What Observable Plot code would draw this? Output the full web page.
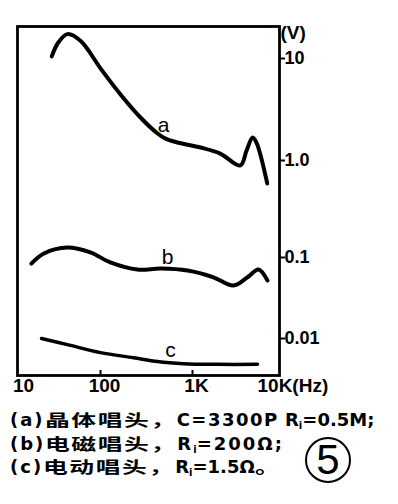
<!DOCTYPE html>
<html><head><meta charset="utf-8">
<script src="https://cdn.jsdelivr.net/npm/d3@7"></script>
<script src="https://cdn.jsdelivr.net/npm/@observablehq/plot@0.6"></script>
<style>
html,body{margin:0;padding:0;background:#fff;}
body{width:398px;height:504px;overflow:hidden;position:relative;}
#chart{position:absolute;left:0;top:0;}
.cap{position:absolute;left:10px;white-space:nowrap;font-family:"DejaVu Sans","Noto Sans CJK SC",sans-serif;font-weight:bold;font-size:18px;line-height:20px;color:#000;}
.cap .p{letter-spacing:2px;}
.cap .k{display:inline-block;font-family:"Noto Sans CJK SC",sans-serif;font-size:16px;line-height:18px;letter-spacing:1px;transform:scaleX(1.55);transform-origin:0 50%;}
.cap .k5{margin-right:47px;}
.cap .l1{letter-spacing:1.5px;}
.cap .l0{letter-spacing:0;}
.cap .l2{letter-spacing:2px;}
.cap sub{font-size:10px;vertical-align:-3px;letter-spacing:0;}
#five{position:absolute;left:305px;top:437px;width:46px;height:46px;border:2.5px solid #000;border-radius:50%;box-sizing:border-box;font-family:"Liberation Sans",sans-serif;font-size:42px;line-height:42px;text-align:center;color:#000;}
</style></head><body>
<div id="chart"></div>
<div class="cap" style="top:410px"><span class="p">(a)</span><span class="k k5">晶体唱头，</span><span class="l1">C=3300P</span><span class="l0"> R<sub>i</sub>=0.5M;</span></div>
<div class="cap" style="top:434px"><span class="p">(b)</span><span class="k k5">电磁唱头，</span><span class="l2">R<sub>i</sub>=200Ω;</span></div>
<div class="cap" style="top:457px"><span class="p">(c)</span><span class="k k5">电动唱头，</span><span class="l0">R<sub>i</sub>=1.5Ω</span><span class="k">。</span></div>
<div id="five">5</div>
<script>
// Curve a: crystal pickup
const freqA = [25, 30, 39, 57, 100, 165, 272, 417, 509, 690, 1240, 2100, 3600, 4250, 5000, 5540, 7400];
const voltA = [10.5, 14.4, 17.6, 15.0, 8.0, 4.44, 2.64, 1.84, 1.64, 1.5, 1.34, 1.17, 0.89, 1.25, 1.68, 1.5, 0.58];
// Curve b: magnetic pickup
const freqB = [14, 20, 39, 75, 128, 252, 449, 883, 1750, 3000, 4360, 5850, 7450];
const voltB = [0.084, 0.11, 0.127, 0.113, 0.087, 0.071, 0.073, 0.069, 0.057, 0.045, 0.057, 0.071, 0.052];
// Curve c: moving-coil pickup
const freqC = [18.7, 39, 100, 228, 417, 800, 1950, 5700];
const voltC = [0.01, 0.0084, 0.0067, 0.0058, 0.0052, 0.0049, 0.0048, 0.0048];

const curveNames = ["a", "b", "c"];
const curveLabelFreq = [484, 535, 576];
const curveLabelVolt = [2.2, 0.1, 0.0071];

const xTicks = [10, 100, 1000, 10000];
const xTickLabels = ["10", "100", "1K", "10K(Hz)"];
const yTicks = [0.01, 0.1, 1, 10];
const yTickLabels = ["0.01", "0.1", "1.0", "10"];
const yUnit = "(V)";

const toRows = (fs, vs) => fs.map((f, i) => ({f, v: vs[i]}));
const rowsA = toRows(freqA, voltA);
const rowsB = toRows(freqB, voltB);
const rowsC = toRows(freqC, voltC);
const labelRows = curveNames.map((n, i) => ({n, f: curveLabelFreq[i], v: curveLabelVolt[i]}));
const xLabelRows = xTicks.map((f, i) => ({f, t: xTickLabels[i]}));
const yLabelMap = new Map(yTicks.map((v, i) => [v, yTickLabels[i]]));

const chart = Plot.plot({
  width: 398, height: 400,
  marginLeft: 17, marginRight: 119, marginTop: 26, marginBottom: 25,
  style: {fontFamily: "Liberation Sans, Arial, sans-serif", fontWeight: "bold", background: "#fff", color: "#000"},
  x: {type: "log", domain: [10, 100, 1000, 10000], range: [19, 100, 192, 278]},
  y: {type: "log", domain: [0.0035, 0.01, 0.1, 1, 10, 21], range: [375, 338, 257, 160, 58, 26]},
  marks: [
    Plot.frame({stroke: "#000", strokeWidth: 2.8}),
    Plot.axisX({ticks: [100, 1000], tickSize: -5, tickFormat: () => "", label: null, strokeWidth: 2}),
    Plot.text(xLabelRows.slice(0, 3), {x: "f", text: "t", frameAnchor: "bottom", lineAnchor: "top", dy: 3, dx: 4, fontSize: 19}),
    Plot.text(xLabelRows.slice(3), {x: "f", text: "t", frameAnchor: "bottom", lineAnchor: "top", dy: 3, dx: -21, textAnchor: "start", fontSize: 19}),
    Plot.axisY({anchor: "right", ticks: yTicks, tickSize: 5, tickPadding: 0, strokeWidth: 2, tickFormat: d => yLabelMap.get(d), fontSize: 18, label: null}),
    Plot.text([yUnit], {text: d => d, frameAnchor: "top-right", textAnchor: "start", lineAnchor: "middle", dx: 1, dy: 6, fontSize: 19}),
    Plot.line(rowsA, {x: "f", y: "v", curve: "catmull-rom", stroke: "#000", strokeWidth: 4}),
    Plot.line(rowsB, {x: "f", y: "v", curve: "catmull-rom", stroke: "#000", strokeWidth: 4}),
    Plot.line(rowsC, {x: "f", y: "v", curve: "catmull-rom", stroke: "#000", strokeWidth: 3.5}),
    Plot.text(labelRows, {x: "f", y: "v", text: "n", fontSize: 21, fontWeight: "normal"})
  ]
});
document.getElementById("chart").append(chart);
</script>
</body></html>
